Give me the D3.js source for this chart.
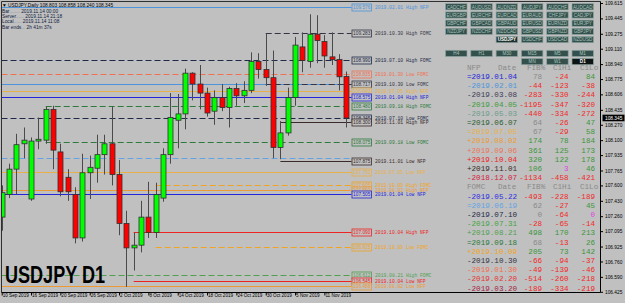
<!DOCTYPE html>
<html><head><meta charset="utf-8">
<script src="https://cdn.jsdelivr.net/npm/d3@7/dist/d3.min.js"></script>
<style>
html,body{margin:0;padding:0;background:#c0c0c0;}
svg{display:block;}
</style></head><body>
<svg id="c" width="625" height="303"></svg>
<script>
// ---------- DATA ----------
const dates = ["2019-09-10","2019-09-11","2019-09-12","2019-09-13","2019-09-16","2019-09-17","2019-09-18","2019-09-19","2019-09-20",
"2019-09-23","2019-09-24","2019-09-25","2019-09-26","2019-09-27","2019-09-30","2019-10-01","2019-10-02","2019-10-03","2019-10-04",
"2019-10-07","2019-10-08","2019-10-09","2019-10-10","2019-10-11","2019-10-14","2019-10-15","2019-10-16","2019-10-17","2019-10-18",
"2019-10-21","2019-10-22","2019-10-23","2019-10-24","2019-10-25","2019-10-28","2019-10-29","2019-10-30","2019-10-31","2019-11-01",
"2019-11-04","2019-11-05","2019-11-06","2019-11-07","2019-11-08","2019-11-11","2019-11-12","2019-11-13","2019-11-14"];
const opens  = [107.25,107.50,107.78,108.06,107.45,108.09,108.10,108.44,107.97,107.69,107.50,107.02,107.74,107.79,107.94,108.06,107.72,107.18,106.91,
106.94,107.25,107.08,107.46,107.94,108.32,108.39,108.84,108.72,108.62,108.42,108.57,108.46,108.67,108.59,108.65,108.97,108.88,108.79,108.02,
108.18,108.57,109.13,108.97,109.27,109.19,109.02,108.99,108.803];
const highs  = [107.60,107.84,108.17,108.24,108.13,108.35,108.47,108.48,108.06,107.78,107.58,107.95,107.93,108.16,108.16,108.47,107.88,107.32,107.08,
107.43,107.64,107.63,108.01,108.62,108.61,108.89,108.85,108.93,108.68,108.65,108.72,108.69,108.73,108.75,109.07,109.06,109.28,109.09,108.31,
108.68,109.24,109.29,109.49,109.48,109.26,109.29,109.05,108.858];
const lows   = [107.10,107.46,107.50,107.90,107.43,108.00,108.06,107.78,107.48,107.43,106.96,106.98,107.45,107.63,107.72,107.60,107.05,106.48,106.66,
106.86,107.02,107.02,107.42,107.84,108.01,108.22,108.54,108.44,108.36,108.27,108.42,108.24,108.48,108.51,108.62,108.78,108.70,107.90,107.89,
108.15,108.48,108.85,108.90,108.95,108.90,108.93,108.65,108.240];
const closes = [107.52,107.78,108.05,108.10,108.09,108.11,108.44,107.99,107.53,107.53,107.02,107.74,107.80,107.94,108.06,107.72,107.18,106.91,106.94,
107.25,107.08,107.50,107.94,108.35,108.39,108.84,108.72,108.62,108.40,108.57,108.46,108.67,108.59,108.65,108.97,108.88,108.79,108.02,108.18,
108.57,109.15,108.98,109.27,109.20,109.03,108.99,108.80,108.345];

const axisDateTicks  = ["2019-09-10","2019-09-16","2019-09-20","2019-09-26","2019-10-02","2019-10-08","2019-10-14","2019-10-18","2019-10-24","2019-10-30","2019-11-05","2019-11-11"];
const axisDateLabels = ["10 Sep 2019","16 Sep 2019","20 Sep 2019","26 Sep 2019","2 Oct 2019","8 Oct 2019","14 Oct 2019","18 Oct 2019","24 Oct 2019","30 Oct 2019","5 Nov 2019","11 Nov 2019"];
const priceTicks = [109.615,109.445,109.275,109.110,108.940,108.775,108.606,108.435,108.270,108.100,107.935,107.765,107.600,107.430,107.260,107.095,106.925,106.760,106.590,106.425];
const currentPrice = 108.345;

// level lines (event levels)
const levelPrices = [109.576,109.283,108.990,108.835,108.725,108.717,108.640,108.575,108.480,108.345,108.300,108.075,107.900,107.875,107.750,107.605,107.550,107.505,107.090,106.915,106.612,106.545,106.488];
const levelEvents = ["2019.02.01","2019.10.30","2019.07.10","2019.01.30","2019.02.01","2019.10.30","2019.07.05","2019.01.04","2019.09.18","2019.07.10","2019.11.01","2019.09.18","2019.06.19","2019.11.01","2019.07.05","2019.10.09","2019.08.02","2019.01.04","2019.10.04","2019.10.09","2019.08.21","2019.10.04","2019.08.02"];
const levelKinds  = ["High NFP","High FOMC","High FOMC","Low FOMC","Low NFP","Low FOMC","High NFP","High NFP","High FOMC","Low FOMC","High NFP","Low FOMC","Low FOMC","Low NFP","Low NFP","High FOMC","High NFP","Low NFP","High NFP","Low FOMC","High FOMC","Low NFP","Low NFP"];

// table
const nfpDates = ["=2019.01.04","-2019.02.01","-2019.03.08","-2019.04.05","-2019.05.03","=2019.06.07","=2019.07.05","+2019.08.02","+2019.09.06","+2019.10.04","+2019.11.01","-2018.12.07"];
const nfpFib   = [78,-44,-283,-1195,-440,64,67,174,361,320,106,-1134];
const nfpHi    = [-24,-123,-330,-347,-334,-26,-29,78,125,122,3,-458];
const nfpLo    = [84,-38,-244,-320,-272,47,58,184,173,178,46,-421];
const fomcDates = ["-2019.05.22","=2019.06.19","-2019.07.10","-2019.07.31","+2019.08.21","=2019.09.18","+2019.10.09","-2019.10.30","-2019.01.30","-2019.02.20","-2019.03.20","-2019.04.30"];
const fomcFib   = [-493,62,0,-28,498,68,205,-66,-49,-514,-189,-150];
const fomcHi    = [-228,-27,-64,-65,170,-13,73,-94,-139,-260,-334,-200];
const fomcLo    = [-189,45,0,-14,213,26,142,-37,-46,-218,-219,-180];

// symbol buttons
const symbolRows = [
 ["CADCHF","AUDUSD","AUDNZD","AUDJPY","AUDCHF","AUDCAD"],
 ["EURGBP","EURCHF","EURCAD","EURAUD","CHFJPY","CADJPY"],
 ["GBPCHF","GBPCAD","GBPAUD","EURUSD","EURNZD","EURJPY"],
 ["NZDJPY","NZDCHF","NZDCAD","GBPUSD","GBPNZD","GBPJPY"],
 ["","","USDJPY","USDCHF","USDCAD","NZDUSD"]];
const tfRows = [["H4","H1","M30","M15","M5","M1"],["","","","MN","W1","D1"]];

const infoLines = [["Bar","........ ","2019.11.14 00:00"],["Server","...... ","2019.11.14 21:18"],["Local","...... ","2019.11.14 11:08"],["Bar ends","... ","2h 41m 37s"]];
const headerText = "\u25BC USDJPY,Daily  108.803 108.858 108.240 108.345";

// ---------- STYLE ----------
const eventColors = {
 "2019.01.04":"#2424d8","2019.02.01":"#4c94dc","2019.03.08":"#3c3c58","2019.04.05":"#3c9c3c","2019.05.03":"#6c9c8c",
 "2019.06.07":"#2c5c34","2019.07.05":"#e8b048","2019.08.02":"#ec9a34","2019.09.06":"#ec7458","2019.10.04":"#ec2424",
 "2019.11.01":"#3a2a2a","2018.12.07":"#d42040",
 "2019.05.22":"#2c2ce0","2019.06.19":"#64a4e4","2019.07.10":"#1e2a48","2019.07.31":"#44a444","2019.08.21":"#50a050",
 "2019.09.18":"#2c7a3c","2019.10.09":"#f0a424","2019.10.30":"#343444","2019.01.30":"#f07050","2019.02.20":"#e43434",
 "2019.03.20":"#a42448","2019.04.30":"#c04040"};
const RED="#f02828", GREEN="#3c963c", GRAY="#8a8a8a", MAG="#e040e0";
const BG="#c0c0c0";

const svg = d3.select("#c");
svg.append("rect").attr("width",625).attr("height",303).attr("fill",BG);

const plotL=1.5, plotR=600.5, plotT=1.5, plotB=292.5;
const x = d3.scalePoint().domain(dates).range([1.7, 346.4]);
const y = d3.scaleLinear().domain([106.425,109.615]).range([291.8,3]);

svg.append("clipPath").attr("id","pc").append("rect").attr("x",plotL+0.5).attr("y",plotT+0.5).attr("width",plotR-plotL-1).attr("height",plotB-plotT-1);
const plot = svg.append("g").attr("clip-path","url(#pc)");

// level lines
const levels = levelPrices.map((p,i)=>({p, ev:levelEvents[i], kind:levelKinds[i]}));
const dateKey = ev => ev.replace(/\./g,"-");
plot.append("g").selectAll("line").data(levels).join("line")
  .attr("x1", d => dates.includes(dateKey(d.ev)) ? x(dateKey(d.ev)) : plotL)
  .attr("x2", 351.5)
  .attr("y1", d => Math.round(y(d.p))+0.5).attr("y2", d => Math.round(y(d.p))+0.5)
  .attr("stroke", d => eventColors[d.ev])
  .attr("stroke-width", 1)
  .attr("stroke-dasharray", d => d.kind.includes("FOMC") ? "6,3" : null);

// candles
const bars = dates.map((d,i)=>({d,o:opens[i],h:highs[i],l:lows[i],c:closes[i]}));
const cg = plot.append("g");
cg.selectAll("line.w").data(bars).join("line").attr("class","w")
  .attr("x1",d=>Math.round(x(d.d))+0.5).attr("x2",d=>Math.round(x(d.d))+0.5)
  .attr("y1",d=>y(d.h)).attr("y2",d=>y(d.l)).attr("stroke","#4a4a4a").attr("stroke-width",1);
cg.selectAll("rect").data(bars).join("rect")
  .attr("x",d=>Math.round(x(d.d))-2)
  .attr("width",5)
  .attr("y",d=>y(Math.max(d.o,d.c)))
  .attr("height",d=>Math.max(1,Math.abs(y(d.o)-y(d.c))))
  .attr("fill",d=>d.c>=d.o?"#00ff00":"#ff0000")
  .attr("stroke","#303030").attr("stroke-width",0.8);

// level labels (box + text); a label covered by a later one at (almost) the same height is skipped
const lg = plot.append("g");
levels.forEach((d,i)=>{
  const yy = Math.round(y(d.p))+0.5;
  const hidden = levels.some((e,j)=> j>i && Math.abs(Math.round(y(e.p))+0.5-yy) < 3.5);
  if(hidden) return;
  const col = eventColors[d.ev];
  lg.append("rect").attr("x",352).attr("y",yy-3.5).attr("width",19.5).attr("height",7)
    .attr("fill",BG).attr("stroke",col).attr("stroke-width",0.8);
  lg.append("text").attr("x",361.75).attr("y",yy+1.7).attr("text-anchor","middle")
    .attr("font-family","Liberation Sans, Arial, sans-serif").attr("font-size",4.8).attr("fill",col)
    .text(d.p.toFixed(3));
  lg.append("text").attr("x",375).attr("y",yy+1.7)
    .attr("font-family","Liberation Mono, Courier New, monospace").attr("font-size",4.7).attr("fill",col)
    .text(d.ev+" "+d.kind);
});

// big label
plot.append("text").attr("x",5).attr("y",282.5).attr("font-family","Liberation Sans, Arial, sans-serif")
  .attr("font-weight","bold").attr("font-size",24).attr("textLength",100).attr("lengthAdjust","spacingAndGlyphs")
  .attr("fill","#000").text("USDJPY D1");

// info text
const info = svg.append("g").attr("font-family","Liberation Sans, Arial, sans-serif").attr("font-size",4.8);
info.append("text").attr("x",2).attr("y",6.5).attr("fill","#000").text(headerText);
infoLines.forEach((l,i)=>{
  const t = info.append("text").attr("x",2).attr("y",12.7+i*5.3);
  t.append("tspan").attr("fill","#102040").text(l[0]);
  t.append("tspan").attr("fill","#7080a0").text(l[1]);
  t.append("tspan").attr("fill","#102040").text(l[2]);
});

// buttons
const bg = svg.append("g").attr("font-family","Liberation Sans, Arial, sans-serif").attr("font-size",4.6);
function drawButtons(rows, y0){
  rows.forEach((row,r)=>row.forEach((lab,c)=>{
    const bx=445+c*25.3, by=y0+r*8.2;
    if(lab==="") return;
    const sel = lab==="USDJPY"||lab==="D1";
    bg.append("rect").attr("x",bx+0.5).attr("y",by+0.5).attr("width",21.5).attr("height",6.2)
      .attr("fill", lab==="D1"?"#0c1414": sel?"#1e3230":"#34504c").attr("stroke","#8ea4a0").attr("stroke-width",0.7);
    bg.append("text").attr("x",bx+11.25).attr("y",by+5.3).attr("text-anchor","middle")
      .attr("fill", sel?"#ffffff":"#a8c4bc").attr("font-weight", sel?"bold":null).text(lab);
  }));
}
drawButtons(symbolRows, 3.2);
drawButtons(tfRows, 49.8);

// table
const tg = svg.append("g").attr("clip-path","url(#pc)").attr("font-family","Liberation Mono, Courier New, monospace").attr("font-size",7.6);
const colX = {date:467, fib:542, hi:568.5, lo:595};
function numColor(v, isFib, prefix){
  if(isFib){ if(prefix==="=" || v===0) return GRAY; return v<0?RED:GREEN; }
  if(Math.abs(v)<=5) return MAG;
  return v<0?RED:GREEN;
}
function header(k, name){
  const yy = 67+9.2*k+2.7;
  [[name,467],["Date",498],["FIB%",527],["C1Hi",553],["C1Lo",580]].forEach(h=>
    tg.append("text").attr("x",h[1]).attr("y",yy).attr("fill",GRAY).text(h[0]));
}
function rows(k0, ds, fib, hi, lo){
  ds.forEach((d,i)=>{
    const yy = 67+9.2*(k0+i)+2.7;
    const pre = d[0];
    tg.append("text").attr("x",colX.date).attr("y",yy).attr("fill",eventColors[d.slice(1)]).text(d);
    tg.append("text").attr("x",colX.fib).attr("y",yy).attr("text-anchor","end").attr("fill",numColor(fib[i],true,pre)).text(fib[i]);
    tg.append("text").attr("x",colX.hi).attr("y",yy).attr("text-anchor","end").attr("fill",numColor(hi[i],false,pre)).text(hi[i]);
    tg.append("text").attr("x",colX.lo).attr("y",yy).attr("text-anchor","end").attr("fill",numColor(lo[i],false,pre)).text(lo[i]);
  });
}
header(0,"NFP");
rows(1,nfpDates,nfpFib,nfpHi,nfpLo);
header(13,"FOMC");
rows(14,fomcDates,fomcFib,fomcHi,fomcLo);

// frame
svg.append("path").attr("d",`M${plotL},${plotB} V${plotT} H${plotR}`).attr("fill","none").attr("stroke","#303030").attr("stroke-width",1);

// right axis
const ra = svg.append("g").attr("transform",`translate(${plotR},0)`)
  .call(d3.axisRight(y).tickValues(priceTicks).tickFormat(d3.format(".3f")).tickSize(2.5).tickPadding(2));
ra.select(".domain").attr("d",`M0,${plotT}V${plotB}`).attr("stroke","#000");
ra.selectAll(".tick line").attr("stroke","#000");
ra.selectAll(".tick text").attr("font-family","Liberation Sans, Arial, sans-serif").attr("font-size",4.8).attr("fill","#000");
// current price marker
const cp = svg.append("g");
cp.append("rect").attr("x",plotR+2).attr("y",y(currentPrice)-3.3).attr("width",22).attr("height",6.6).attr("fill","#000");
cp.append("text").attr("x",plotR+4.5).attr("y",y(currentPrice)+1.7).attr("fill","#fff")
  .attr("font-family","Liberation Sans, Arial, sans-serif").attr("font-size",4.8).text(currentPrice.toFixed(3));

// bottom axis
const labelOf = d => axisDateLabels[axisDateTicks.indexOf(d)];
const ba = svg.append("g").attr("transform",`translate(0,${plotB})`)
  .call(d3.axisBottom(x).tickValues(axisDateTicks).tickFormat(labelOf).tickSize(3).tickPadding(1));
ba.select(".domain").attr("d",`M${plotL},0H${plotR}`).attr("stroke","#000");
ba.selectAll(".tick line").attr("stroke","#000");
ba.selectAll(".tick text").attr("text-anchor","start").attr("dx",0.5).attr("dy","0.2em")
  .attr("font-family","Liberation Sans, Arial, sans-serif").attr("font-size",4.6).attr("fill","#000");
</script>
</body></html>
